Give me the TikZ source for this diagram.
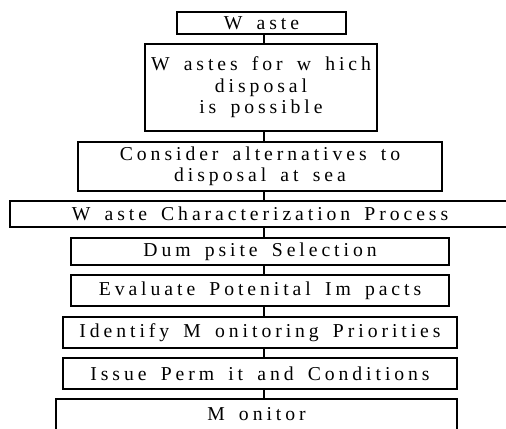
\documentclass[tikz,border=0pt]{standalone}
\usepackage{fontspec}
\setmainfont{Liberation Serif}
\newfontfamily\spacedfont[LetterSpace=20, WordSpace=1.6]{Liberation Serif}
\usepackage{tikz}

\begin{document}
\begin{tikzpicture}[
    stage/.style={draw, line width=1pt, inner sep=0pt, align=center,
        font=\spacedfont\fontsize{11.2}{12.2}\selectfont},
    link/.style={line width=0.9pt}
]
\useasboundingbox (0,0) rectangle (10.12,8.56);
\clip (0,0) rectangle (10.12,8.56);

% === Screening ===
\node[stage, minimum width=3.38cm, minimum height=0.44cm] (waste) at (5.23, 8.10) {W aste};
\node[stage, minimum width=4.64cm, minimum height=1.74cm] (possible) at (5.22, 6.81)
    {W astes for w hich\\disposal\\is possible};
\node[stage, minimum width=7.28cm, minimum height=0.98cm] (alternatives) at (5.20, 5.23)
    {Consider alternatives to\\disposal at sea};

% === Assessment ===
\node[stage, minimum width=10cm, minimum height=0.52cm] (characterize) at (5.20, 4.28) {W aste Characterization Process};
\node[stage, minimum width=7.56cm, minimum height=0.54cm] (dumpsite) at (5.20, 3.53) {Dum psite Selection};
\node[stage, minimum width=7.56cm, minimum height=0.62cm] (impacts) at (5.20, 2.75) {Evaluate Potenital Im pacts};
\node[stage, minimum width=7.88cm, minimum height=0.62cm] (priorities) at (5.20, 1.91) {Identify M onitoring Priorities};
\node[stage, minimum width=7.88cm, minimum height=0.62cm] (permit) at (5.20, 1.09) {Issue Perm it and Conditions};
\node[stage, minimum width=8.02cm, minimum height=0.62cm] (monitor) at (5.13, 0.27) {M onitor};

% connectors along one spine
\coordinate (spine) at (5.28, 0);
\foreach \a/\b in {waste/possible, possible/alternatives, alternatives/characterize,
    characterize/dumpsite, dumpsite/impacts, impacts/priorities, priorities/permit, permit/monitor}
    \draw[link] (\a.south -| spine) -- (\b.north -| spine);

\end{tikzpicture}
\end{document}
